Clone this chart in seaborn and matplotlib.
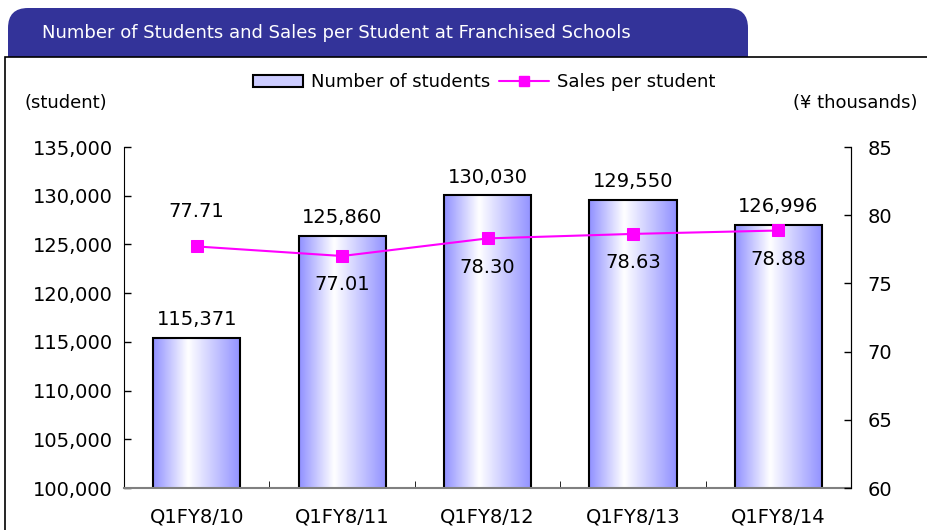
import numpy as np
import pandas as pd
import matplotlib
matplotlib.use("Agg")
import matplotlib.pyplot as plt
import seaborn as sns
from matplotlib.patches import FancyBboxPatch, Rectangle, Patch
from matplotlib.lines import Line2D
from matplotlib.colors import LinearSegmentedColormap
from matplotlib.ticker import FuncFormatter, MultipleLocator

# data
periods = ['Q1FY8/10', 'Q1FY8/11', 'Q1FY8/12', 'Q1FY8/13', 'Q1FY8/14']
students = [115371, 125860, 130030, 129550, 126996]
sales_per_student = [77.71, 77.01, 78.30, 78.63, 78.88]

title = 'Number of Students and Sales per Student at Franchised Schools'

sns.set_style("white")
plt.rcParams['font.family'] = ['DejaVu Sans']
plt.rcParams['text.color'] = 'black'
plt.rcParams['xtick.color'] = 'black'
plt.rcParams['ytick.color'] = 'black'

fig = plt.figure(figsize=(9.27, 5.30), dpi=100)

# background in pixel coords: tab header + framed white panel
bg = fig.add_axes([0, 0, 1, 1], zorder=-1)
bg.set_xlim(0, 927)
bg.set_ylim(530, 0)
bg.axis('off')
bg.add_patch(FancyBboxPatch((8, 8), 740, 90, boxstyle="round,pad=0,rounding_size=20",
                            facecolor='#333399', edgecolor='none'))
bg.add_patch(Rectangle((5, 57), 940, 500, facecolor='white', edgecolor='black', lw=1.2))
bg.text(42, 33, title, color='white', fontsize=13, va='center', ha='left')
bg.text(25, 103, '(student)', fontsize=13, va='center', ha='left')
bg.text(918, 103, '(¥ thousands)', fontsize=13, va='center', ha='right')

ax = fig.add_axes([0.1338, 0.0792, 0.7843, 0.6434])
df = pd.DataFrame({'period': periods, 'students': students, 'sales': sales_per_student})

sns.barplot(data=df, x='period', y='students', ax=ax, width=0.6,
            color='#ccccff', edgecolor='black', linewidth=1.5, zorder=2)
ax.set_xlim(-0.5, 4.5)
ax.set_ylim(100000, 135000)

# horizontal blue-white-blue gradient inside each bar
cmap = LinearSegmentedColormap.from_list('barg', [(0, '#9090ff'), (0.4, '#ffffff'), (1, '#9090ff')])
grad = np.linspace(0, 1, 256).reshape(1, -1)
for bar, val in zip(ax.patches, students):
    x0 = bar.get_x()
    w = bar.get_width()
    bar.set_facecolor('none')
    im = ax.imshow(grad, cmap=cmap, aspect='auto', extent=[x0, x0 + w, 100000, val],
                   zorder=1.5, interpolation='bicubic')
    im.set_clip_path(bar)
    ax.text(x0 + w / 2, val + 900, f'{val:,}', ha='center', va='bottom', fontsize=14)

ax.set_xlabel('')
ax.set_ylabel('')
ax.yaxis.set_major_locator(MultipleLocator(5000))
ax.yaxis.set_major_formatter(FuncFormatter(lambda v, p: f'{int(v):,}'))
ax.tick_params(axis='y', labelsize=14, length=5, width=1, direction='in', left=True, pad=8)
ax.tick_params(axis='x', labelsize=14, length=0, pad=14)
ax.set_xticks(np.arange(-0.5, 5.0, 1.0), minor=True)
ax.tick_params(axis='x', which='minor', length=5, direction='in', bottom=True, color='black')
ax.spines['top'].set_visible(False)
ax.spines['left'].set_color('black')
ax.spines['bottom'].set_color('#808080')
ax.spines['bottom'].set_linewidth(1.5)

ax2 = ax.twinx()
sns.lineplot(x=np.arange(len(periods)), y=sales_per_student, ax=ax2, color='#ff00ff',
             marker='s', markersize=9, markeredgecolor='#ff00ff', linewidth=1.5, zorder=3)
ax2.set_ylim(60, 85)
ax2.yaxis.set_major_locator(MultipleLocator(5))
ax2.tick_params(axis='y', labelsize=14, length=5, width=1, direction='in', right=True, pad=12)
ax2.spines['top'].set_visible(False)
ax2.spines['right'].set_color('black')
ax2.spines['left'].set_visible(False)
ax2.spines['bottom'].set_visible(False)
ax2.set_ylabel('')

for i, v in enumerate(sales_per_student):
    if i == 0:
        ax2.text(i, v + 1.9, f'{v:.2f}', ha='center', va='bottom', fontsize=14)
    else:
        ax2.text(i, v - 1.4, f'{v:.2f}', ha='center', va='top', fontsize=14)

handles = [Patch(facecolor='#ccccff', edgecolor='black', linewidth=1.5),
           Line2D([], [], color='#ff00ff', marker='s', markersize=7, linewidth=1.5)]
fig.legend(handles, ['Number of students', 'Sales per student'], loc='center',
           bbox_to_anchor=(0.522, 0.845), ncol=2, frameon=False, fontsize=13,
           handlelength=2.8, handletextpad=0.4, columnspacing=0.5)

fig.savefig('out.png', dpi=100)
